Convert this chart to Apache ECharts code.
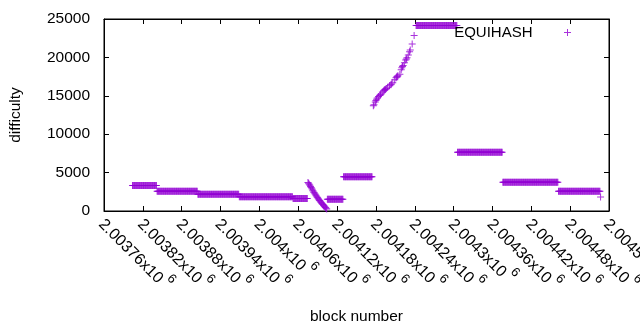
<!DOCTYPE html>
<html>
<head>
<meta charset="utf-8">
<script src="https://cdn.jsdelivr.net/npm/echarts@6/dist/echarts.min.js"></script>
<style>
  html, body { margin: 0; padding: 0; background: #fff; }
  #chart { width: 640px; height: 330px; }
</style>
</head>
<body>
<div id="chart"></div>
<script>
// flat difficulty runs: first block, last block, difficulty
const stepStart = [2003804, 2003842, 2003905, 2003969, 2004052, 2004105, 2004130, 2004242, 2004306, 2004376, 2004462]
const stepEnd   = [2003841, 2003904, 2003968, 2004051, 2004074, 2004129, 2004174, 2004305, 2004375, 2004461, 2004526]
const stepDiff  = [3330, 2565, 2174, 1866, 1628, 1520, 4460, 24150, 7640, 3740, 2560]

// falling run after 2004074
const fallBlock = [2004075, 2004076, 2004077, 2004078, 2004079, 2004080, 2004081, 2004082, 2004083, 2004084,
  2004085, 2004086, 2004087, 2004088, 2004089, 2004090, 2004091, 2004092, 2004093, 2004094,
  2004095, 2004096, 2004097, 2004098, 2004099, 2004100, 2004101, 2004102, 2004103, 2004104]
const fallDiff = [3700, 3600, 3480, 3350, 3200, 3050, 2900, 2750, 2600, 2450,
  2330, 2200, 2080, 1950, 1830, 1720, 1600, 1480, 1370, 1260,
  1150, 1040, 940, 840, 740, 640, 540, 440, 350, 270]

// rising run before the 24k plateau
const riseBlock = [2004176, 2004177, 2004179, 2004180, 2004181, 2004182, 2004184, 2004186, 2004187, 2004188,
  2004190, 2004192, 2004193, 2004194, 2004195, 2004196, 2004198, 2004201, 2004203, 2004204,
  2004206, 2004209, 2004211, 2004212, 2004213, 2004214, 2004217, 2004219, 2004220, 2004221,
  2004222, 2004224, 2004226, 2004227, 2004228, 2004230, 2004232, 2004233, 2004236, 2004239]
const riseDiff = [13700, 13850, 14200, 14400, 14550, 14700, 14900, 15050, 15150, 15250,
  15500, 15650, 15750, 15800, 15850, 15950, 16100, 16300, 16450, 16550,
  16700, 17100, 17350, 17450, 17550, 17600, 17800, 18400, 18650, 18800,
  18950, 19300, 19650, 19800, 19950, 20300, 20750, 20950, 21750, 22850]

const tailBlock = [2004527]
const tailDiff = [1820]

const points = []
stepStart.forEach((s, i) => {
  for (let b = s; b <= stepEnd[i]; b++) points.push([b, stepDiff[i]])
})
fallBlock.forEach((b, i) => points.push([b, fallDiff[i]]))
riseBlock.forEach((b, i) => points.push([b, riseDiff[i]]))
tailBlock.forEach((b, i) => points.push([b, tailDiff[i]]))

const FONT = "'Liberation Sans', Arial, sans-serif"
const PLUS = 'path://M3,0h1v3h3v1h-3v3h-1v-3h-3v-1h3z'
const PURPLE = '#9400d3'

const fmtBlock = (v) => {
  const m = parseFloat((v / 1e6).toPrecision(6)).toString()
  return '{m|' + m + 'x10}{e|6}'
}

const frameAxis = { show: true, onZero: false, lineStyle: { color: '#000', width: 1 } }
const frameTick = { show: true, inside: true, length: 5, lineStyle: { color: '#000' } }

const chart = echarts.init(document.getElementById('chart'))
chart.setOption({
  animation: false,
  grid: {
    left: 104, right: 31, top: 19, bottom: 119,
    outerBoundsMode: 'none',
    show: true, borderColor: '#000', borderWidth: 1,
  },
  legend: {
    right: 64,
    top: 20,
    align: 'right',
    itemWidth: 60,
    itemHeight: 7,
    textStyle: { fontFamily: FONT, fontSize: 15, color: '#000' },
    data: [{ name: 'EQUIHASH', icon: PLUS }],
  },
  xAxis: [
    {
      type: 'value',
      min: 2003760,
      max: 2004540,
      interval: 60,
      name: 'block number',
      nameLocation: 'middle',
      nameGap: 98,
      nameTextStyle: { fontFamily: FONT, fontSize: 15.5, color: '#000' },
      axisLine: frameAxis,
      axisTick: frameTick,
      splitLine: { show: false },
      axisLabel: {
        rotate: -45,
        margin: 8,
        showMinLabel: true,
        showMaxLabel: true,
        color: '#000',
        formatter: fmtBlock,
        rich: {
          m: { fontFamily: FONT, fontSize: 16, color: '#000', lineHeight: 24, verticalAlign: 'bottom' },
          e: { fontFamily: FONT, fontSize: 13, color: '#000', lineHeight: 13, verticalAlign: 'top', padding: [0, 0, 0, 3] },
        },
      },
    },
    {
      type: 'value',
      position: 'top',
      min: 2003760,
      max: 2004540,
      interval: 60,
      axisLine: frameAxis,
      axisTick: frameTick,
      axisLabel: { show: false },
      splitLine: { show: false },
    },
  ],
  yAxis: [
    {
      type: 'value',
      min: 0,
      max: 25000,
      interval: 5000,
      name: 'difficulty',
      nameLocation: 'middle',
      nameGap: 80,
      nameTextStyle: { fontFamily: FONT, fontSize: 15.5, color: '#000' },
      axisLine: frameAxis,
      axisTick: frameTick,
      splitLine: { show: false },
      axisLabel: {
        margin: 14,
        fontFamily: FONT,
        fontSize: 15.5,
        color: '#000',
        formatter: (v) => String(v),
      },
    },
    {
      type: 'value',
      position: 'right',
      min: 0,
      max: 25000,
      interval: 5000,
      axisLine: frameAxis,
      axisTick: frameTick,
      axisLabel: { show: false },
      splitLine: { show: false },
    },
  ],
  series: [
    {
      name: 'EQUIHASH',
      type: 'scatter',
      symbol: PLUS,
      symbolSize: 7,
      itemStyle: { color: PURPLE },
      data: points,
    },
  ],
})
</script>
</body>
</html>
